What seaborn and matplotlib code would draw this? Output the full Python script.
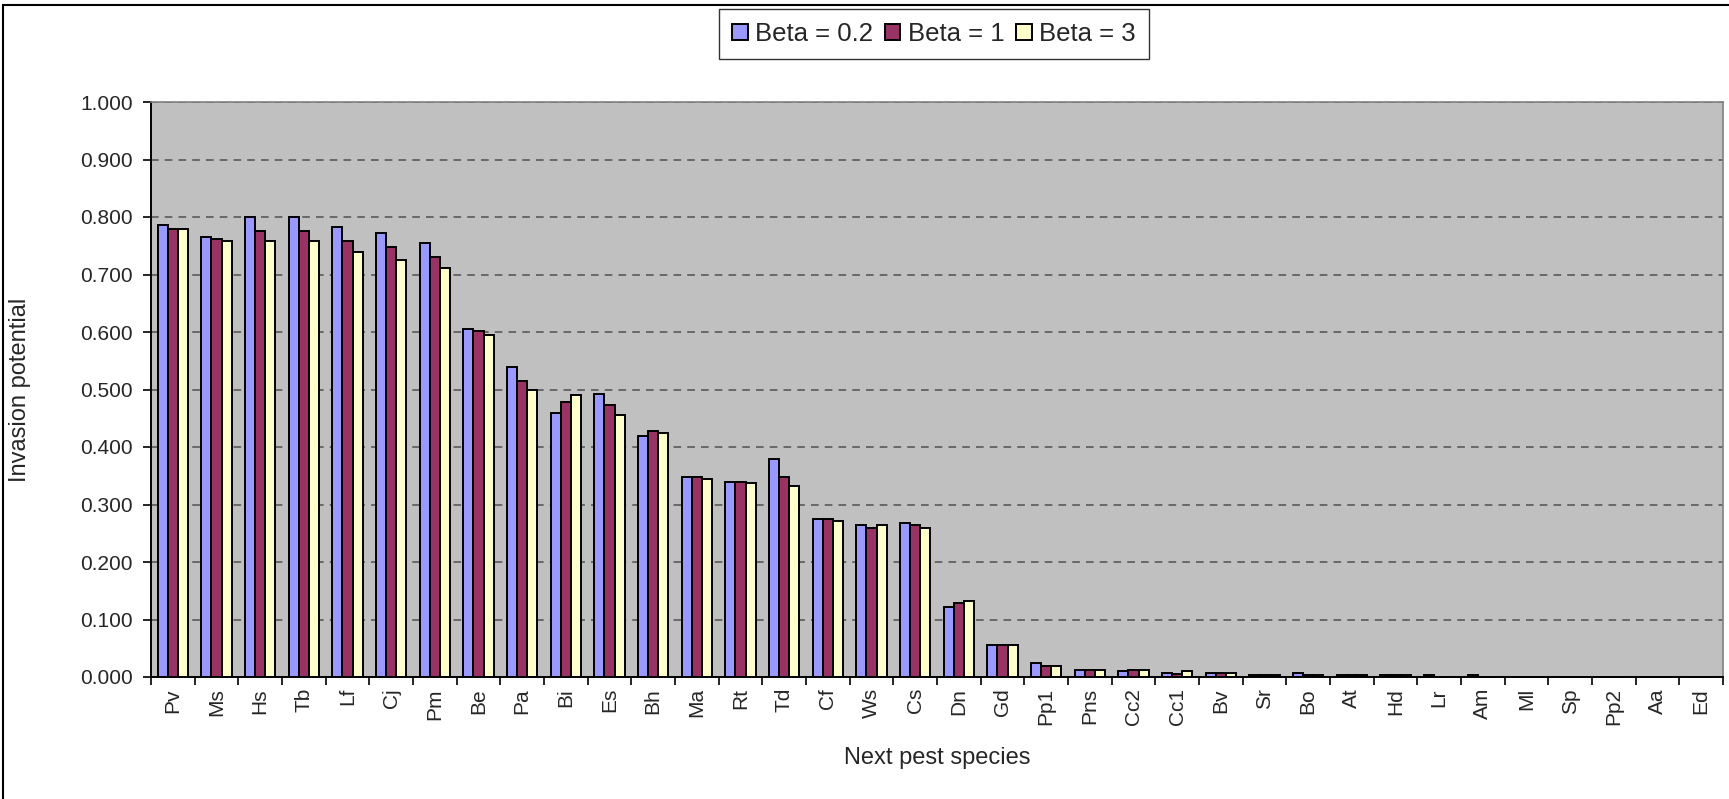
import pandas as pd
import matplotlib
matplotlib.use('Agg')
import matplotlib.pyplot as plt
import seaborn as sns
from matplotlib.patches import Rectangle
from matplotlib.ticker import FormatStrFormatter, FixedLocator

# species on the x axis
species = ['Pv', 'Ms', 'Hs', 'Tb', 'Lf', 'Cj', 'Pm', 'Be', 'Pa', 'Bi', 'Es', 'Bh',
           'Ma', 'Rt', 'Td', 'Cf', 'Ws', 'Cs', 'Dn', 'Gd', 'Pp1', 'Pns', 'Cc2', 'Cc1',
           'Bv', 'Sr', 'Bo', 'At', 'Hd', 'Lr', 'Am', 'Ml', 'Sp', 'Pp2', 'Aa', 'Ed']

# invasion potential for each beta
beta_02 = [0.786, 0.765, 0.800, 0.800, 0.782, 0.772, 0.754, 0.605, 0.539, 0.459,
           0.493, 0.420, 0.347, 0.340, 0.379, 0.274, 0.264, 0.267, 0.121, 0.055,
           0.024, 0.013, 0.010, 0.007, 0.007, 0.003, 0.007, 0.003, 0.003, 0.003,
           0.003, 0.0, 0.0, 0.0, 0.0, 0.0]
beta_1 = [0.779, 0.761, 0.775, 0.775, 0.758, 0.747, 0.730, 0.601, 0.514, 0.479,
          0.473, 0.427, 0.347, 0.340, 0.347, 0.274, 0.260, 0.264, 0.128, 0.055,
          0.020, 0.013, 0.013, 0.006, 0.007, 0.003, 0.003, 0.003, 0.003, 0.0,
          0.0, 0.0, 0.0, 0.0, 0.0, 0.0]
beta_3 = [0.779, 0.758, 0.758, 0.758, 0.740, 0.726, 0.712, 0.594, 0.500, 0.490,
          0.455, 0.424, 0.344, 0.337, 0.333, 0.271, 0.264, 0.260, 0.132, 0.055,
          0.020, 0.013, 0.013, 0.010, 0.007, 0.003, 0.003, 0.003, 0.003, 0.0,
          0.0, 0.0, 0.0, 0.0, 0.0, 0.0]

series_names = ['Beta = 0.2', 'Beta = 1', 'Beta = 3']
colors = ['#9999FF', '#993366', '#FFFFCC']

df = pd.DataFrame({
    'species': species * 3,
    'beta': [series_names[0]] * len(species) + [series_names[1]] * len(species) + [series_names[2]] * len(species),
    'value': beta_02 + beta_1 + beta_3,
})

sns.set_style('white')
plt.rcParams['font.family'] = ['Liberation Sans', 'DejaVu Sans']

fig = plt.figure(figsize=(17.29, 7.99), dpi=100)
ax = fig.add_axes([151 / 1729, 1 - 677 / 799, (1723 - 151) / 1729, (677 - 102) / 799])
ax.set_facecolor('#C0C0C0')

sns.barplot(data=df, x='species', y='value', hue='beta', palette=colors,
            width=0.69, gap=0, edgecolor='black', linewidth=1.4, ax=ax,
            saturation=1, legend=True)

ax.set_ylim(0, 1.0)
ax.set_xlim(-0.5, len(species) - 0.5)
ax.yaxis.set_major_locator(FixedLocator([i / 10 for i in range(11)]))
ax.yaxis.set_major_formatter(FormatStrFormatter('%.3f'))
ax.yaxis.grid(True, which='major', color='#505050', linestyle=(0, (5, 4)), linewidth=1.1)
ax.xaxis.grid(False)
ax.set_axisbelow(True)

# tick marks between species groups
ax.set_xticks([i - 0.5 for i in range(len(species) + 1)], minor=True)
ax.tick_params(axis='x', which='major', length=0, labelsize=15, labelrotation=90, pad=8)
ax.tick_params(axis='x', which='minor', length=6, width=1.2, color='black', direction='out', bottom=True)
ax.tick_params(axis='y', which='major', length=6, width=1.2, color='black', direction='out', left=True,
               labelsize=15, pad=7)

for s in ['left', 'bottom']:
    ax.spines[s].set_color('black')
    ax.spines[s].set_linewidth(1.4)
for s in ['top', 'right']:
    ax.spines[s].set_color('#808080')
    ax.spines[s].set_linewidth(1.2)

ax.set_xlabel('Next pest species', fontsize=17, labelpad=16)
ax.set_ylabel('Invasion potential', fontsize=17)
ax.yaxis.set_label_coords(-0.0765, 0.5)

handles, labels = ax.get_legend_handles_labels()
ax.get_legend().remove()
leg = fig.legend(handles, labels, loc='center', bbox_to_anchor=(934 / 1729, 1 - 34 / 799),
                 ncol=3, fontsize=18.5, frameon=True, fancybox=False, handlelength=0.6,
                 handleheight=0.6, handletextpad=0.3, columnspacing=0.45, borderpad=0.5)
leg.get_frame().set_edgecolor('black')
leg.get_frame().set_linewidth(1.0)

# chart area frame
fig.patches.append(Rectangle((3 / 1729, -0.5), 2, 0.5 + 1 - 5 / 799, transform=fig.transFigure,
                             fill=False, edgecolor='black', linewidth=1.5))

fig.savefig('out.png', dpi=100, facecolor='white')
